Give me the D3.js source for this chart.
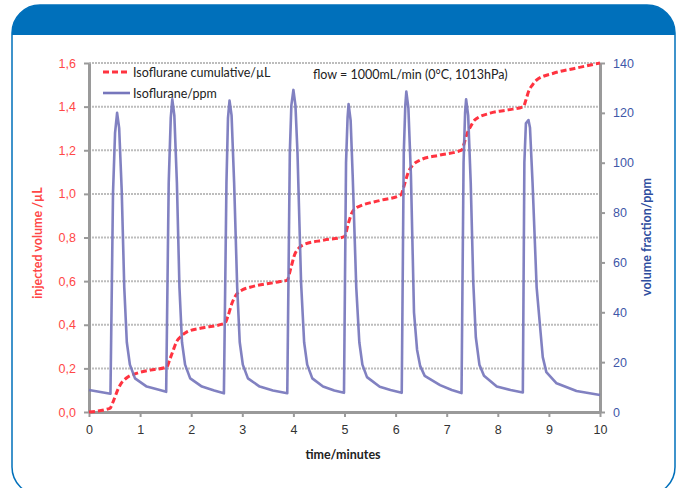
<!DOCTYPE html>
<html><head><meta charset="utf-8">
<script src="https://cdn.jsdelivr.net/npm/d3@7"></script>
<style>
html,body{margin:0;padding:0;background:#fff;}
svg{display:block;font-family:Lato,"Open Sans",sans-serif;}
</style></head>
<body>
<svg id="chart" width="681" height="488"></svg>
<script>
// ---- data ----
const xTicks = [0,1,2,3,4,5,6,7,8,9,10];
const leftTicks = [0,0.2,0.4,0.6,0.8,1.0,1.2,1.4,1.6];
const rightTicks = [0,20,40,60,80,100,120,140];
const seriesNames = ["Isoflurane cumulative/µL","Isoflurane/ppm"];
const annotation = "flow = 1000mL/min (0°C, 1013hPa)";
const xTitle = "time/minutes";
const leftTitle = "injected volume /µL";
const rightTitle = "volume fraction/ppm";

// cumulative injected volume (time [min], µL)
const cumulative = [
 [0,0],[0.41,0.017],[0.46,0.04],[0.51,0.07],[0.56,0.1],[0.61,0.124],[0.74,0.157],[0.93,0.177],[1.2,0.192],[1.52,0.206],
 [1.58,0.24],[1.65,0.284],[1.72,0.325],[1.78,0.342],[1.91,0.366],[2.2,0.385],[2.66,0.407],
 [2.72,0.44],[2.8,0.5],[2.89,0.54],[3.02,0.562],[3.15,0.572],[3.74,0.598],[3.88,0.605],
 [3.95,0.66],[4.03,0.725],[4.1,0.75],[4.19,0.766],[4.6,0.788],[5.0,0.804],
 [5.07,0.86],[5.14,0.911],[5.22,0.935],[5.3,0.944],[5.7,0.97],[6.1,0.995],
 [6.17,1.04],[6.25,1.1],[6.33,1.13],[6.48,1.155],[6.87,1.178],[7.29,1.201],
 [7.34,1.23],[7.39,1.27],[7.47,1.31],[7.55,1.339],[7.85,1.37],[8.2,1.385],[8.5,1.4],
 [8.55,1.43],[8.6,1.468],[8.68,1.5],[8.76,1.522],[9.09,1.553],[9.5,1.575],[10,1.6]
];
// volume fraction (time [min], ppm)
const ppm = [
 [0,8.8],[0.42,7.3],[0.47,88],[0.51,112],[0.55,120],[0.59,114],[0.64,89],[0.69,50],[0.74,28],[0.8,19],[0.9,13.5],[1.13,10.2],[1.35,9],[1.51,8.1],
 [1.56,92],[1.6,118],[1.63,125.4],[1.67,119],[1.72,92],[1.77,50],[1.82,28],[1.88,19],[1.98,13.5],[2.21,10.2],[2.45,8.6],[2.64,7.5],
 [2.69,92],[2.72,118],[2.75,124.9],[2.79,119],[2.84,92],[2.9,50],[2.95,28],[3.01,19],[3.11,13.5],[3.34,10.2],[3.6,8.6],[3.88,7.5],
 [3.93,104],[3.96,123],[4.0,129.2],[4.04,123],[4.08,104],[4.15,52],[4.21,28],[4.27,19],[4.37,13.5],[4.58,10.2],[4.8,8.6],[4.99,7.7],
 [5.03,100],[5.06,118],[5.08,123.5],[5.12,117],[5.16,95],[5.23,50],[5.29,28],[5.35,19],[5.44,14],[5.69,10.1],[5.9,8.8],[6.12,7.7],
 [6.16,104],[6.19,123],[6.21,128.5],[6.25,122],[6.3,95],[6.36,40],[6.42,25],[6.48,18.5],[6.57,14.5],[6.87,10.8],[7.1,8.8],[7.29,7.6],
 [7.33,100],[7.36,120],[7.38,125.4],[7.42,119],[7.47,92],[7.52,52],[7.57,30],[7.64,19],[7.73,14.5],[7.98,10.2],[8.25,8.8],[8.49,7.8],
 [8.52,100],[8.55,115.8],[8.6,117.1],[8.63,114],[8.68,92],[8.76,50],[8.83,33.6],[8.88,22],[8.95,16],[9.15,11.5],[9.54,8.4],[10,6.8]
];

// ---- drawing ----
const svg = d3.select("#chart");
const plot = {l:89, r:600, t:63, b:412};
const red = "#ff3340", purple = "#7676bc", leftCol = "#ff4747", rightCol = "#3f57a8", frameBlue = "#0070bb";

// frame
const fx = 12, fy = 5, fw = 663, fh = 490, rad = 28;
svg.append("rect").attr("x",fx).attr("y",fy).attr("width",fw).attr("height",fh)
  .attr("rx",rad).attr("ry",rad).attr("fill","#fff").attr("stroke",frameBlue).attr("stroke-width",1.5);
// banner
const bh = 30;
svg.append("path").attr("fill",frameBlue)
  .attr("d",`M${fx},${fy+bh} L${fx},${fy+rad} A${rad},${rad} 0 0 1 ${fx+rad},${fy} L${fx+fw-rad},${fy} A${rad},${rad} 0 0 1 ${fx+fw},${fy+rad} L${fx+fw},${fy+bh} Z`);

const x = d3.scaleLinear().domain([0,10]).range([plot.l,plot.r]);
const yL = d3.scaleLinear().domain([0,1.6]).range([plot.b,plot.t]);
const yR = d3.scaleLinear().domain([0,140]).range([plot.b,plot.t]);

// gridlines
svg.append("g").selectAll("line").data(leftTicks.filter(d=>d>0)).join("line")
  .attr("x1",plot.l).attr("x2",plot.r).attr("y1",d=>yL(d)).attr("y2",d=>yL(d))
  .attr("stroke","#bdbdbd").attr("stroke-width",2).attr("stroke-dasharray","2,1");

const axisStyle = g => {
  g.select(".domain").attr("stroke","#9a9a9a").attr("stroke-width",3);
  g.selectAll(".tick line").attr("stroke","#9a9a9a").attr("stroke-width",2);
  g.selectAll("text").attr("font-size",12.5);
};

// left axis
svg.append("g").attr("transform",`translate(${plot.l},0)`)
  .call(d3.axisLeft(yL).tickValues(leftTicks).tickSize(5).tickSizeOuter(0).tickPadding(8)
    .tickFormat(d=>d3.format(".1f")(d).replace(".",",")))
  .call(axisStyle).call(g=>g.selectAll("text").attr("fill",leftCol));
// right axis
svg.append("g").attr("transform",`translate(${plot.r},0)`)
  .call(d3.axisRight(yR).tickValues(rightTicks).tickSize(5).tickSizeOuter(0).tickPadding(8))
  .call(axisStyle).call(g=>g.selectAll("text").attr("fill",rightCol));
// bottom axis
svg.append("g").attr("transform",`translate(0,${plot.b})`)
  .call(d3.axisBottom(x).tickValues(xTicks).tickSize(5).tickSizeOuter(0).tickPadding(8))
  .call(axisStyle).call(g=>g.selectAll("text").attr("fill","#333"));

// series
svg.append("path").datum(cumulative)
  .attr("d",d3.line().x(d=>x(d[0])).y(d=>yL(d[1])).curve(d3.curveMonotoneX))
  .attr("fill","none").attr("stroke",red).attr("stroke-width",3).attr("stroke-dasharray","6,3");
svg.append("path").datum(ppm)
  .attr("d",d3.line().x(d=>x(d[0])).y(d=>yR(d[1])))
  .attr("fill","none").attr("stroke",purple).attr("stroke-width",2.6).attr("stroke-opacity",0.92)
  .attr("stroke-linejoin","round");

// titles
svg.append("text").attr("x",343).attr("y",459).attr("text-anchor","middle")
  .attr("font-size",12.5).attr("font-weight","bold").attr("fill","#222").text(xTitle);
svg.append("text").attr("transform",`translate(42,243) rotate(-90)`).attr("text-anchor","middle")
  .attr("font-size",12.5).attr("font-weight","bold").attr("fill",leftCol).text(leftTitle);
svg.append("text").attr("transform",`translate(651,237) rotate(-90)`).attr("text-anchor","middle")
  .attr("font-size",12.5).attr("font-weight","bold").attr("fill","#2f4ea0").text(rightTitle);

// legend
const leg = svg.append("g");
leg.append("line").attr("x1",103).attr("x2",128).attr("y1",72).attr("y2",72)
  .attr("stroke",red).attr("stroke-width",3).attr("stroke-dasharray","6,3");
leg.append("text").attr("x",133).attr("y",76.5).attr("font-size",12.5).attr("fill","#222").text(seriesNames[0]);
leg.append("line").attr("x1",103).attr("x2",130).attr("y1",93).attr("y2",93)
  .attr("stroke",purple).attr("stroke-width",2.6);
leg.append("text").attr("x",133).attr("y",97.5).attr("font-size",12.5).attr("fill","#222").text(seriesNames[1]);

svg.append("text").attr("x",313).attr("y",79).attr("font-size",12.5).attr("fill","#222").text(annotation);
</script>
</body></html>
